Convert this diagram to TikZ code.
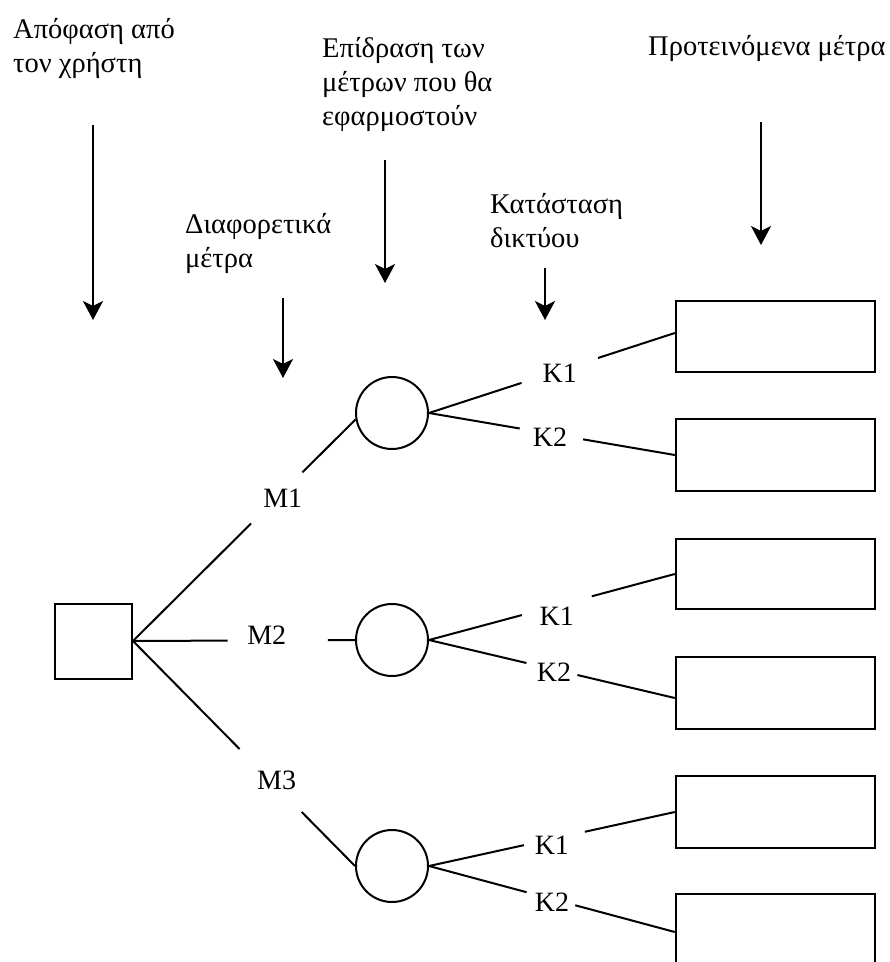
\documentclass[tikz,border=0pt]{standalone}
\usepackage{fontspec}
\setmainfont{Liberation Serif}
\usetikzlibrary{arrows.meta,calc}
\begin{document}
\begin{tikzpicture}[x=1pt,y=-1pt,
  lbl/.style={inner sep=0pt, align=left, anchor=base west, font=\fontsize{28.5}{34}\selectfont},
  gap/.style={circle, inner sep=0pt, minimum size=#1},
  mk/.style={inner sep=0pt, font=\fontsize{28}{30}\selectfont},
  dec/.style={draw, line width=2pt, minimum width=77pt, minimum height=75pt, inner sep=0pt},
  chance/.style={draw, circle, line width=2pt, minimum size=72pt, inner sep=0pt},
  res/.style={draw, line width=2.4pt, minimum width=199pt, minimum height=#1, inner sep=0pt},
  conn/.style={line width=2pt},
  pointer/.style={line width=2.8pt, -{Stealth[length=19pt,width=20pt,inset=5pt]}}]
\useasboundingbox[fill=white] (0,0) rectangle (890,962);

% labels (anchored at the baseline of their last line)
\node[lbl] (t1) at (13,72) {Απόφαση από\\τον χρήστη};
\node[lbl] (t2) at (322,125) {Επίδραση των\\μέτρων που θα\\εφαρμοστούν};
\node[lbl] (t3) at (185,267) {Διαφορετικά\\μέτρα};
\node[lbl] (t4) at (490,247) {Κατάσταση\\δικτύου};
\node[lbl] (t5) at (648,55) {Προτεινόμενα μέτρα};

% pointer arrows
\coordinate (a1s) at (93,125);  \coordinate (a1e) at (93,320);
\coordinate (a2s) at (385,160); \coordinate (a2e) at (385,283);
\coordinate (a3s) at (283,298); \coordinate (a3e) at (283,378);
\coordinate (a4s) at (545,268); \coordinate (a4e) at (545,320);
\coordinate (a5s) at (761,122); \coordinate (a5e) at (761,245);
\draw[pointer] (a1s) -- (a1e);
\draw[pointer] (a2s) -- (a2e);
\draw[pointer] (a3s) -- (a3e);
\draw[pointer] (a4s) -- (a4e);
\draw[pointer] (a5s) -- (a5e);

% tree nodes
\node[dec] (sq) at (93.5,641) {};
\node[chance] (c1) at (392,413) {};
\node[chance] (c2) at (392,640) {};
\node[chance] (c3) at (392,866) {};
\node[res=71pt] (r1) at (775.5,336.5) {};
\node[res=72pt] (r2) at (775.5,455) {};
\node[res=70pt] (r3) at (775.5,574) {};
\node[res=72pt] (r4) at (775.5,693) {};
\node[res=72pt] (r5) at (775.5,812) {};
\node[res=72pt] (r6) at (775.5,930) {};

% M branches
\node[gap=72pt] (m1) at ($(sq.east)!0.646!(c1.190)$) {};
\node[gap=100pt] (m2) at ($(sq.east)!0.652!(c2.west)$) {};
\node[gap=88pt] (m3) at ($(sq.east)!0.62!(c3.west)$) {};
\node[mk] (m1t) at ($(m1)+(6,0)$) {M1};
\node[mk] (m2t) at ($(m2)+(-11,-5)$) {M2};
\node[mk] (m3t) at ($(m3)+(6,0)$) {M3};
\draw[conn] (sq.east) -- (m1);
\draw[conn] (m1) -- (c1.190);
\draw[conn] (sq.east) -- (m2);
\draw[conn] (m2) -- (c2.west);
\draw[conn] (sq.east) -- (m3);
\draw[conn] (m3) -- (c3.west);

% K branches
\coordinate (e1) at ([yshift=3.5pt]r1.west);
\coordinate (e4) at ([yshift=-5pt]r4.west);
\coordinate (e6) at ([yshift=-2pt]r6.west);
\node[gap=80pt] (k11) at ($(c1.east)!0.532!(e1)$) {};
\node[gap=64pt] (k12) at ($(c1.east)!0.498!(r2.west)$) {};
\node[gap=72pt] (k21) at ($(c2.east)!0.52!(r3.west)$) {};
\node[gap=52pt] (k22) at ($(c2.east)!0.5!(e4)$) {};
\node[gap=62pt] (k31) at ($(c3.east)!0.51!(r5.west)$) {};
\node[gap=50pt] (k32) at ($(c3.east)!0.496!(e6)$) {};
\node[mk] (k11t) at ($(k11)+(0,2.5)$) {K1};
\node[mk] (k12t) at ($(k12)+(-1.5,3)$) {K2};
\node[mk] (k21t) at ($(k21)+(0,11)$) {K1};
\node[mk] (k22t) at ($(k22)+(2,3)$) {K2};
\node[mk] (k31t) at ($(k31)+(-2.5,6.5)$) {K1};
\node[mk] (k32t) at ($(k32)+(1,3)$) {K2};
\draw[conn] (c1.east) -- (k11);
\draw[conn] (k11) -- (e1);
\draw[conn] (c1.east) -- (k12);
\draw[conn] (k12) -- (r2.west);
\draw[conn] (c2.east) -- (k21);
\draw[conn] (k21) -- (r3.west);
\draw[conn] (c2.east) -- (k22);
\draw[conn] (k22) -- (e4);
\draw[conn] (c3.east) -- (k31);
\draw[conn] (k31) -- (r5.west);
\draw[conn] (c3.east) -- (k32);
\draw[conn] (k32) -- (e6);
\end{tikzpicture}
\end{document}
